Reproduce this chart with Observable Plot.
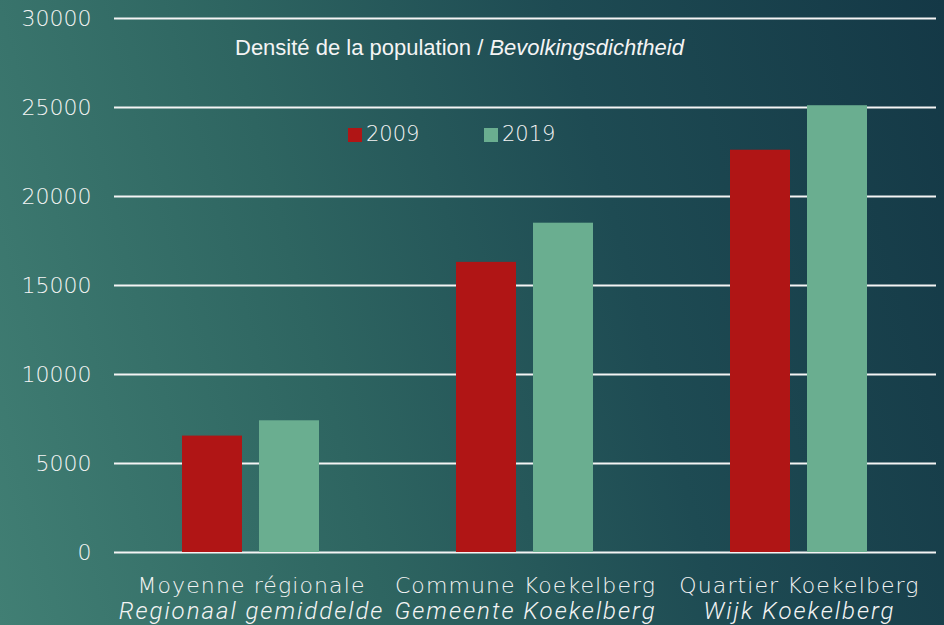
<!DOCTYPE html>
<html>
<head>
<meta charset="utf-8">
<script src="https://cdn.jsdelivr.net/npm/d3@7"></script>
<script src="https://cdn.jsdelivr.net/npm/@observablehq/plot@0.6"></script>
<style>
  html, body { margin: 0; padding: 0; }
  #wrap {
    position: relative; width: 944px; height: 625px; overflow: hidden;
    background: linear-gradient(75deg, #417f74 0%, #2e6561 35%, #1e4b53 65%, #143846 100%);
  }
  #chart { position: absolute; left: 0; top: 0; }
  #title {
    position: absolute; left: 235px; top: 37px; white-space: nowrap;
    font-family: "Liberation Sans", Arial, sans-serif; font-size: 22px; line-height: 22px;
    color: #f4f4f4;
  }
  .leg { position: absolute; font-family: "DejaVu Sans", sans-serif; font-weight: 200;
    font-size: 21px; line-height: 22px; color: #f4f4f4; white-space: nowrap; }
  .sw { position: absolute; width: 14px; height: 14px; }
  .lbl text { letter-spacing: 1.1px; }
  .lbl2 text { letter-spacing: 2px; }
</style>
</head>
<body>
<div id="wrap">
  <div id="chart"></div>
  <div id="title">Densité de la population / <i>Bevolkingsdichtheid</i></div>
  <div id="legend"></div>
</div>
<script>
const categoriesFr = ["Moyenne régionale", "Commune Koekelberg", "Quartier Koekelberg"];
const categoriesNl = ["Regionaal gemiddelde", "Gemeente Koekelberg", "Wijk Koekelberg"];
const years = ["2009", "2019"];
const values2009 = [6540, 16300, 22600];
const values2019 = [7400, 18500, 25100];
const yTicks = [0, 5000, 10000, 15000, 20000, 25000, 30000];
const colors = ["#b01515", "#6aae90"];

const data = categoriesFr.flatMap((c, i) => [
  {cat: c, year: years[0], value: values2009[i]},
  {cat: c, year: years[1], value: values2019[i]}
]);
const labels = categoriesFr.map((c, i) => ({fr: c, nl: categoriesNl[i]}));

const lightFont = "'DejaVu Sans', sans-serif";
const italicFont = "Roboto, 'Open Sans', sans-serif";

const chart = Plot.plot({
  width: 944,
  height: 625,
  marginLeft: 113,
  marginRight: 7,
  marginTop: 18,
  marginBottom: 73,
  style: {background: "transparent", color: "#f4f4f4", fontFamily: lightFont, overflow: "visible"},
  fx: {domain: categoriesFr, padding: 0, axis: null, label: null},
  x: {domain: years, paddingInner: 0.218, paddingOuter: 0.87, axis: null},
  y: {domain: [0, 30000]},
  color: {domain: years, range: colors},
  marks: [
    Plot.ruleY(yTicks, {stroke: "#f4f4f4", strokeWidth: 2}),
    Plot.barY(data, {fx: "cat", x: "year", y: "value", fill: "year"}),
    Plot.axisY(yTicks, {tickSize: 0, tickPadding: 23, fontSize: 22, fontWeight: 200, label: null, tickFormat: d => String(d)}),
    Plot.text(labels, {fx: "fr", text: "fr", frameAnchor: "bottom", lineAnchor: "middle", dy: 33, fontSize: 22, fontWeight: 200, fill: "#f4f4f4", className: "lbl"}),
    Plot.text(labels, {fx: "fr", text: "nl", frameAnchor: "bottom", lineAnchor: "middle", dy: 59, fontSize: 24, fontWeight: 300, fontStyle: "italic", fontFamily: italicFont, fill: "#f4f4f4", className: "lbl2"})
  ]
});
document.getElementById("chart").appendChild(chart);

// legend
const legend = document.getElementById("legend");
const legPos = [{sw: 348, tx: 366}, {sw: 484, tx: 502}];
years.forEach((y, i) => {
  const s = document.createElement("div");
  s.className = "sw";
  s.style.left = legPos[i].sw + "px"; s.style.top = "128px"; s.style.background = colors[i];
  legend.appendChild(s);
  const t = document.createElement("div");
  t.className = "leg";
  t.style.left = legPos[i].tx + "px"; t.style.top = "123px";
  t.textContent = y;
  legend.appendChild(t);
});
</script>
</body>
</html>
